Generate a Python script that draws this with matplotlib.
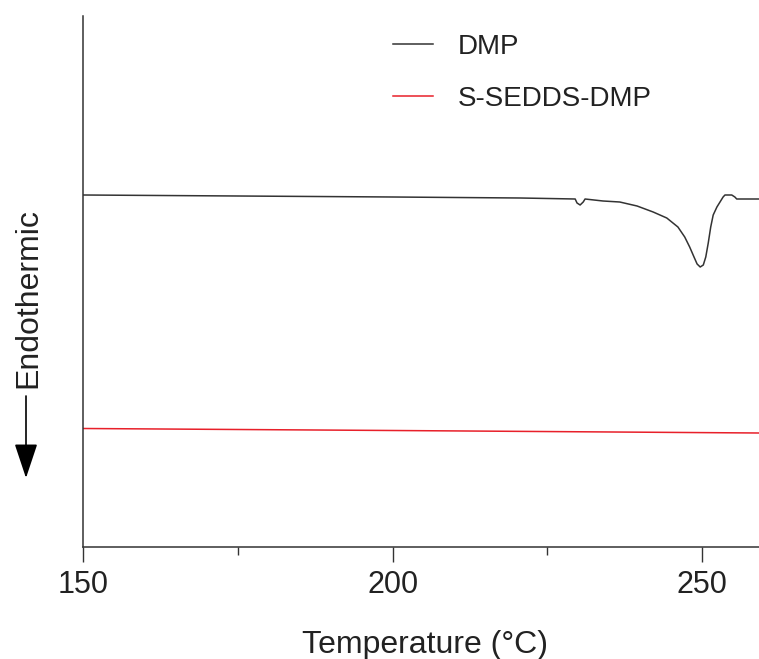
import matplotlib
matplotlib.use("Agg")
import matplotlib.pyplot as plt
from matplotlib.ticker import MultipleLocator

plt.rcParams["font.family"] = ["Liberation Sans", "DejaVu Sans"]

# DSC traces (heat flow, arbitrary units)
dmp_temp = [150.0, 175.0, 200.0, 220.6, 225.1, 229.5, 229.8, 230.3, 230.8, 231.1,
            234.0, 236.7, 239.5, 242.1, 244.3, 246.1, 247.2, 248.0, 248.7, 249.2,
            249.7, 250.2, 250.6, 251.0, 251.4, 251.8, 252.4, 252.9, 253.4, 253.7,
            254.8, 255.3, 255.6, 259.2]
dmp_heat = [3.52, 3.51, 3.50, 3.49, 3.485, 3.48, 3.44, 3.42, 3.45, 3.48,
            3.46, 3.45, 3.41, 3.35, 3.29, 3.20, 3.10, 3.00, 2.90, 2.83,
            2.80, 2.82, 2.90, 3.04, 3.20, 3.32, 3.40, 3.45, 3.50, 3.52,
            3.52, 3.50, 3.48, 3.48]

sedds_temp = [150.0, 200.0, 259.2]
sedds_heat = [1.185, 1.165, 1.14]

labels = ["DMP", "S-SEDDS-DMP"]
colors = ["#333333", "#e8202a"]


def main():
    fig = plt.figure(figsize=(7.59, 6.59), dpi=100)
    ax = fig.add_axes([83.1 / 759, 112 / 659, 1 - 83.1 / 759, 531 / 659])

    ax.plot(dmp_temp, dmp_heat, color=colors[0], lw=1.1, label=labels[0])
    ax.plot(sedds_temp, sedds_heat, color=colors[1], lw=1.1, label=labels[1])

    ax.set_xlim(150, 259.2)
    ax.set_ylim(0, 5.31)

    # only left/bottom axes, no y ticks
    for s in ["top", "right"]:
        ax.spines[s].set_visible(False)
    for s in ["left", "bottom"]:
        ax.spines[s].set_linewidth(1.1)
        ax.spines[s].set_color("#333333")
    ax.set_yticks([])
    ax.xaxis.set_major_locator(MultipleLocator(50))
    ax.xaxis.set_minor_locator(MultipleLocator(25))
    ax.tick_params(axis="x", which="major", length=10.8, width=1.0, color="#333333",
                   labelsize=22, pad=6, labelcolor="#222222")
    ax.tick_params(axis="x", which="minor", length=5.5, width=1.0, color="#333333")

    fig.text(425 / 759, 6 / 659, "Temperature (°C)", fontsize=23,
             ha="center", va="baseline", color="#222222")

    # endothermic direction label with arrow
    fig.text(28 / 759, (659 - 298) / 659, "Endothermic", fontsize=23,
             rotation=90, ha="center", va="center", color="#222222")
    ax.annotate("", xy=(26 / 759, (659 - 478) / 659), xycoords="figure fraction",
                xytext=(26 / 759, (659 - 396) / 659), textcoords="figure fraction",
                arrowprops=dict(arrowstyle="-|>,head_length=1.08,head_width=0.36",
                                mutation_scale=20, color="black", lw=1.2,
                                shrinkA=0, shrinkB=0))

    leg = ax.legend(loc="upper left", bbox_to_anchor=(393 / 759, (659 - 34) / 659),
                    bbox_transform=fig.transFigure, frameon=False, fontsize=20,
                    borderpad=0, borderaxespad=0, handlelength=1.44,
                    handletextpad=0.9, labelspacing=0.93)
    for t in leg.get_texts():
        t.set_color("#222222")

    fig.savefig("out.png", dpi=100)


if __name__ == "__main__":
    main()
